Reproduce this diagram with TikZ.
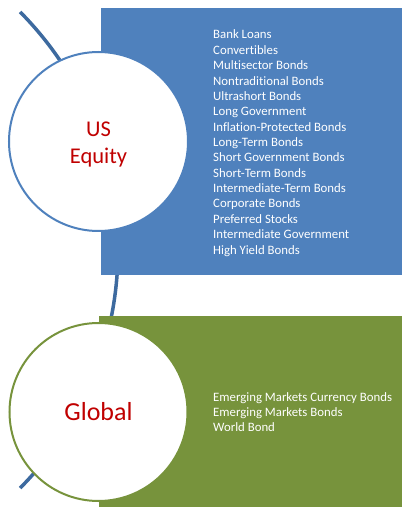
\documentclass[tikz,border=0pt]{standalone}
\usepackage{fontspec}
\setmainfont{Carlito}[Ligatures=NoCommon]
\definecolor{accblue}{HTML}{4F81BD}
\definecolor{accgreen}{HTML}{77933C}
\definecolor{linkblue}{HTML}{3D6A9F}
\definecolor{labelred}{HTML}{C00000}
\begin{document}
\begin{tikzpicture}[x=1pt,y=1pt,
  bubble/.style={circle,fill=white,line width=2pt,inner sep=0pt},
  headtext/.style={text=labelred,align=center},
  itemtext/.style={text=white,anchor=base west,inner sep=0pt,font=\fontsize{12.8}{14}\selectfont}
]
\useasboundingbox (0,0) rectangle (402,507);
% connector arc behind everything
\draw[linkblue,line width=3.5pt] (-220.5,257) ++(44.7:338.5) arc[start angle=44.7,end angle=-44.7,radius=338.5];
% panels
\fill[accblue] (101,232) rectangle (402,499);
\fill[accgreen] (99,0) rectangle (402,191);
% circles
\node[bubble,draw=accblue,minimum size=179pt] (c1) at (98.5,365.5) {};
\node[bubble,draw=accgreen,minimum size=178pt] (c2) at (98.5,95) {};
\node[headtext,font=\fontsize{22.5}{27}\selectfont] (t1) at (98.5,362) {US\\Equity};
\node[headtext,font=\fontsize{26}{30}\selectfont] (t2) at (98.5,95) {Global};
% blue list
\foreach \txt [count=\i] in {Bank Loans,Convertibles,Multisector Bonds,Nontraditional Bonds,Ultrashort Bonds,Long Government,Inflation-Protected Bonds,Long-Term Bonds,Short Government Bonds,Short-Term Bonds,Intermediate-Term Bonds,Corporate Bonds,Preferred Stocks,Intermediate Government,High Yield Bonds}
  \node[itemtext] (u\i) at (213,{468-15.36*(\i-1)}) {\txt};
% green list
\foreach \txt [count=\i] in {Emerging Markets Currency Bonds,Emerging Markets Bonds,World Bond}
  \node[itemtext] (g\i) at (213,{105-15*(\i-1)}) {\txt};
\end{tikzpicture}
\end{document}
